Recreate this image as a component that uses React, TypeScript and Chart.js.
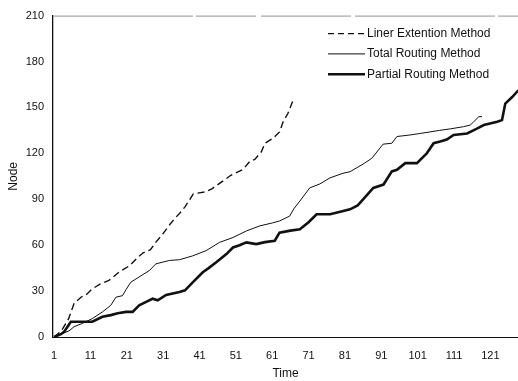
import React, { useEffect, useRef } from "react";
import { Chart, registerables } from "chart.js";

Chart.register(...registerables);

const xTicks = [1, 11, 21, 31, 41, 51, 61, 71, 81, 91, 101, 111, 121];
const yTicks = [0, 30, 60, 90, 120, 150, 180, 210];

const seriesLabels = ["Liner Extention Method", "Total Routing Method", "Partial Routing Method"];

const linerTime = [1, 3, 5, 6.5, 8.4, 10, 11.5, 13.8, 16.1, 18.8, 21.7, 24, 25.5, 27.5, 29, 30.8, 32.9, 34, 35.6, 37, 39.3, 42.9, 44.5, 45.7, 47.5, 49.5, 53, 54.8, 56.2, 58, 59, 61.2, 63, 64, 65.3, 66.7];
const linerValue = [0, 4, 12, 22, 26, 28, 31.5, 34.7, 37, 42.3, 46.5, 52, 55, 57, 62, 67, 73.7, 77, 81, 85, 93.5, 95, 97, 99, 102, 105.5, 109.5, 114.7, 116, 121, 126.6, 129.8, 134, 140.6, 146, 154.5];

const totalTime = [1, 3, 5.1, 6.5, 8.8, 11.5, 14.3, 16.6, 18, 19.8, 20.8, 22.1, 24.9, 27.2, 29, 32.7, 35.5, 39.1, 42.8, 46.5, 50.2, 53.9, 57.6, 61, 63, 65.8, 67, 68.6, 71.3, 74.1, 76.9, 80.5, 82.4, 86, 88.4, 91.5, 93.9, 95.3, 98.9, 101.7, 104.4, 107, 110, 113.6, 115.5, 116.4, 117.8, 118.7];
const totalValue = [0, 2, 4, 6.7, 8.9, 12, 16.4, 20.7, 26, 27, 31, 35.8, 40, 43.4, 47.8, 50, 50.5, 53, 56.4, 61.8, 65, 69.3, 72.6, 74.5, 75.8, 79, 84, 88.8, 97.4, 100, 104, 107, 108, 113, 116.8, 126, 126.6, 131, 132, 133, 134, 135, 136, 137.4, 138.5, 140.6, 143.9, 144];

const partialTime = [1, 3, 3.8, 5.6, 7, 9.7, 11.5, 14.3, 16.6, 18.5, 20.8, 22.6, 24.4, 26.3, 28.1, 29.5, 31.8, 35.5, 37, 39.2, 41.9, 43.5, 45.6, 48.4, 50.2, 52, 53.9, 56.6, 59, 61.7, 63, 66, 68.6, 71, 73.2, 76.9, 80, 82.4, 84.5, 86, 88.8, 91.6, 93.9, 95.3, 97.6, 100.8, 103.5, 105.4, 107.2, 109, 110.9, 114.6, 117.3, 119.2, 122.9, 124.2, 125.1, 127, 128.7];
const partialValue = [0, 2, 3.5, 10, 10, 10, 10, 13.2, 14.3, 15.5, 16.4, 16.4, 20.7, 23, 25, 24, 27.5, 29.4, 30.5, 35.8, 42.3, 45, 48.8, 54.2, 58.5, 60, 61.8, 60.7, 62, 62.9, 68.2, 69.5, 70.4, 75, 80.2, 80.2, 82, 83.4, 86, 89.9, 97.4, 99.6, 108.2, 109.3, 113.6, 113.6, 120, 126.6, 127.7, 129, 132, 133, 136.1, 138.5, 140.6, 141.7, 152.5, 156.8, 161.2];

const FONT = "'Liberation Sans', Arial, sans-serif";
const INK = "#111";

const pts = (xs: number[], ys: number[]) => xs.map((x, i) => ({ x, y: ys[i] }));

const frameLegendPlugin = {
  id: "frameLegend",
  afterDraw(chart: any) {
    const { ctx, chartArea } = chart;
    ctx.save();
    // top frame line
    ctx.strokeStyle = "#888";
    ctx.lineWidth = 0.9;
    ctx.setLineDash([140, 3, 60, 5, 90, 4]);
    ctx.beginPath();
    ctx.moveTo(chartArea.left, chartArea.top + 0.5);
    ctx.lineTo(chartArea.right, chartArea.top + 0.5);
    ctx.stroke();
    // legend
    ctx.font = `12px ${FONT}`;
    ctx.textBaseline = "middle";
    ctx.textAlign = "left";
    chart.data.datasets.forEach((ds: any, i: number) => {
      const y = chartArea.top + 18 + i * 20.3;
      const x1 = chartArea.right - 190;
      const x2 = chartArea.right - 153;
      ctx.strokeStyle = INK;
      ctx.lineWidth = ds.borderWidth;
      ctx.setLineDash(ds.borderDash ? [6, 4] : []);
      ctx.beginPath();
      ctx.moveTo(x1, y);
      ctx.lineTo(x2, y);
      ctx.stroke();
      ctx.setLineDash([]);
      ctx.fillStyle = INK;
      ctx.fillText(ds.label, x2 + 2, y);
    });
    ctx.restore();
  },
};

export default function App() {
  const ref = useRef<HTMLCanvasElement | null>(null);
  useEffect(() => {
    if (!ref.current) return;
    const chart = new Chart(ref.current, {
      type: "line",
      data: {
        datasets: [
          {
            label: seriesLabels[0],
            data: pts(linerTime, linerValue),
            borderColor: INK,
            borderWidth: 1.4,
            borderDash: [7, 4],
            pointRadius: 0,
            tension: 0,
          },
          {
            label: seriesLabels[1],
            data: pts(totalTime, totalValue),
            borderColor: INK,
            borderWidth: 1,
            pointRadius: 0,
            tension: 0,
          },
          {
            label: seriesLabels[2],
            data: pts(partialTime, partialValue),
            borderColor: INK,
            borderWidth: 2.6,
            pointRadius: 0,
            tension: 0,
          },
        ],
      },
      options: {
        animation: false,
        responsive: false,
        layout: { padding: { top: 13, right: 0, left: 0, bottom: 0 } },
        plugins: { legend: { display: false }, tooltip: { enabled: false } },
        scales: {
          x: {
            type: "linear",
            min: 0.7,
            max: 128.6,
            afterBuildTicks: (axis: any) => {
              axis.ticks = xTicks.map((v) => ({ value: v }));
            },
            afterFit: (axis: any) => {
              axis.height = 44;
            },
            grid: { display: false, drawTicks: false },
            border: { display: true, color: INK, width: 1 },
            ticks: { autoSkip: false, maxRotation: 0, padding: 12, color: INK, font: { family: FONT, size: 11 } },
            title: { display: true, text: "Time", color: INK, font: { family: FONT, size: 12 }, padding: 0 },
          },
          y: {
            min: 0,
            max: 210,
            afterBuildTicks: (axis: any) => {
              axis.ticks = yTicks.map((v) => ({ value: v }));
            },
            afterFit: (axis: any) => {
              axis.width = 53;
            },
            grid: { display: false, drawTicks: false },
            border: { display: true, color: INK, width: 1.3 },
            ticks: { padding: 9, color: INK, font: { family: FONT, size: 11 } },
            title: { display: true, text: "Node", color: INK, font: { family: FONT, size: 12 }, padding: 6 },
          },
        },
      },
      plugins: [frameLegendPlugin],
    } as any);
    return () => chart.destroy();
  }, []);
  return (
    <div style={{ position: "absolute", left: 0, top: 0, width: 518, height: 381, background: "#fff" }}>
      <canvas ref={ref} width={518} height={381} style={{ display: "block" }} />
    </div>
  );
}
